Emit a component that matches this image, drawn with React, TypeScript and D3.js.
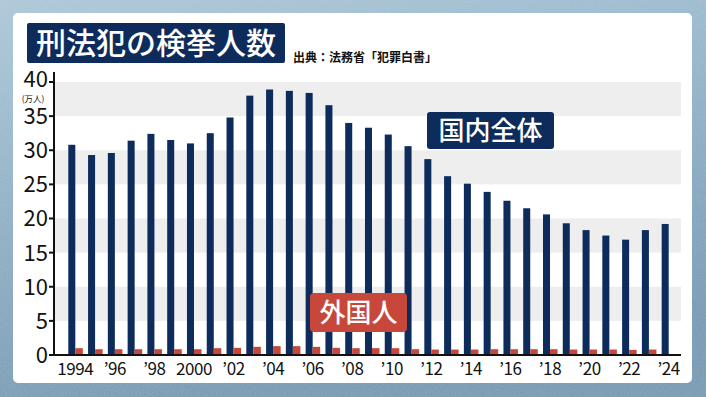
import React from "react";
import * as d3 from "d3";

// 刑法犯の検挙人数 (万人)
const years = d3.range(1994, 2025);
const totalValues = [
  30.8, 29.3, 29.6, 31.4, 32.4, 31.5, 31.0, 32.5, 34.8, 38.0, 38.9, 38.7, 38.4,
  36.6, 34.0, 33.3, 32.3, 30.6, 28.7, 26.2, 25.1, 23.9, 22.6, 21.5, 20.6, 19.3,
  18.3, 17.5, 16.9, 18.3, 19.2,
];
// 外国人 (2024 はデータなし)
const foreignValues = [
  1.0, 0.85, 0.85, 0.85, 0.85, 0.85, 0.85, 1.0, 1.05, 1.2, 1.3, 1.3, 1.2, 1.05,
  1.0, 1.0, 1.0, 0.85, 0.8, 0.8, 0.8, 0.85, 0.85, 0.85, 0.85, 0.8, 0.8, 0.8,
  0.75, 0.8, null,
];
const yTicks = [0, 5, 10, 15, 20, 25, 30, 35, 40];
const stripeBands = [
  [5, 10],
  [15, 20],
  [25, 30],
  [35, 40],
];
const labelYears = d3.range(1994, 2025, 2);

const W = 706;
const H = 397;
const NAVY = "#0d2c5b";
const RED = "#c8473b";
const JP = "'Noto Sans CJK JP', 'Noto Sans', sans-serif";

const fmtYear = (y: number) =>
  y === 1994 || y === 2000 ? String(y) : "\u2019" + String(y).slice(2);

export default function App() {
  const plotLeft = 54;
  const plotRight = 681;

  const y = d3.scaleLinear().domain([0, 40]).range([355, 82]);
  const x = d3
    .scaleBand<number>()
    .domain(years)
    .range([58.4, 685.6])
    .paddingInner(0.29)
    .paddingOuter(0.5);
  const bw = x.bandwidth();
  const half = bw / 2;

  return (
    <svg
      width={W}
      height={H}
      style={{ position: "absolute", left: 0, top: 0, display: "block" }}
    >
      <defs>
        <linearGradient id="bg" x1="0" y1="0" x2="0.3" y2="1">
          <stop offset="0" stopColor="#a9c5d6" />
          <stop offset="0.5" stopColor="#8cadc4" />
          <stop offset="1" stopColor="#7396b0" />
        </linearGradient>
        <filter id="grain" x="0" y="0" width="100%" height="100%">
          <feTurbulence type="fractalNoise" baseFrequency="0.9" numOctaves="2" seed="3" />
          <feColorMatrix
            type="matrix"
            values="0 0 0 0 1  0 0 0 0 1  0 0 0 0 1  0 0 0 0.35 0"
          />
        </filter>
      </defs>

      {/* background */}
      <rect x={0} y={0} width={W} height={H} fill="url(#bg)" />
      <rect x={0} y={0} width={W} height={H} filter="url(#grain)" opacity={0.5} />

      {/* white panel */}
      <rect x={13} y={13} width={679} height={370} rx={5} fill="#ffffff" />

      {/* stripes */}
      {stripeBands.map(([a, b]) => (
        <rect
          key={a}
          x={plotLeft}
          y={y(b)}
          width={plotRight - plotLeft}
          height={y(a) - y(b)}
          fill="#eeeeee"
        />
      ))}

      {/* total bars */}
      {years.map((yr, i) => (
        <rect
          key={"t" + yr}
          x={x(yr)}
          y={y(totalValues[i])}
          width={half}
          height={y(0) - y(totalValues[i])}
          fill={NAVY}
        />
      ))}

      {/* foreign bars */}
      {years.map((yr, i) =>
        foreignValues[i] == null ? null : (
          <rect
            key={"f" + yr}
            x={(x(yr) as number) + half}
            y={y(foreignValues[i] as number)}
            width={half + 0.5}
            height={y(0) - y(foreignValues[i] as number)}
            fill={RED}
          />
        )
      )}

      {/* axes */}
      <line x1={plotLeft} x2={plotLeft} y1={72} y2={356} stroke="#111" strokeWidth={2} />
      <line x1={plotLeft - 1} x2={plotRight} y1={355} y2={355} stroke="#111" strokeWidth={2} />
      {yTicks.map((t) => (
        <g key={t}>
          <line x1={plotLeft - 5} x2={plotLeft} y1={y(t)} y2={y(t)} stroke="#111" strokeWidth={2} />
          <text
            x={48}
            y={t === 40 ? y(t) - 3 : y(t)}
            dy="0.36em"
            textAnchor="end"
            fontFamily={JP}
            fontSize={22}
            fill="#111"
          >
            {t}
          </text>
        </g>
      ))}
      <text x={33} y={101.5} textAnchor="middle" fontFamily={JP} fontSize={8.5} fill="#111">
        (万人)
      </text>

      {labelYears.map((yr) => (
        <text
          key={"l" + yr}
          x={(x(yr) as number) + half}
          y={375}
          textAnchor="middle"
          fontFamily={JP}
          fontSize={17}
          letterSpacing={-0.4}
          fill="#111"
        >
          {fmtYear(yr)}
        </text>
      ))}

      {/* title */}
      <rect x={27} y={23} width={258} height={40} rx={2} fill={NAVY} />
      <text
        x={156}
        y={43}
        dy="0.36em"
        textAnchor="middle"
        fontFamily={JP}
        fontWeight={500}
        fontSize={30}
        fill="#ffffff"
      >
        刑法犯の検挙人数
      </text>
      <text x={293} y={62} fontFamily={JP} fontWeight={700} fontSize={12} fill="#111">
        出典：法務省「犯罪白書」
      </text>

      {/* series labels */}
      <rect x={427} y={112} width={127} height={37} rx={3} fill={NAVY} />
      <text
        x={490.5}
        y={130.5}
        dy="0.36em"
        textAnchor="middle"
        fontFamily={JP}
        fontWeight={500}
        fontSize={26}
        fill="#ffffff"
      >
        国内全体
      </text>
      <rect x={310} y={293} width={97} height={39} rx={4} fill={RED} />
      <text
        x={358.5}
        y={312.5}
        dy="0.36em"
        textAnchor="middle"
        fontFamily={JP}
        fontWeight={500}
        fontSize={26}
        fill="#ffffff"
      >
        外国人
      </text>
    </svg>
  );
}
